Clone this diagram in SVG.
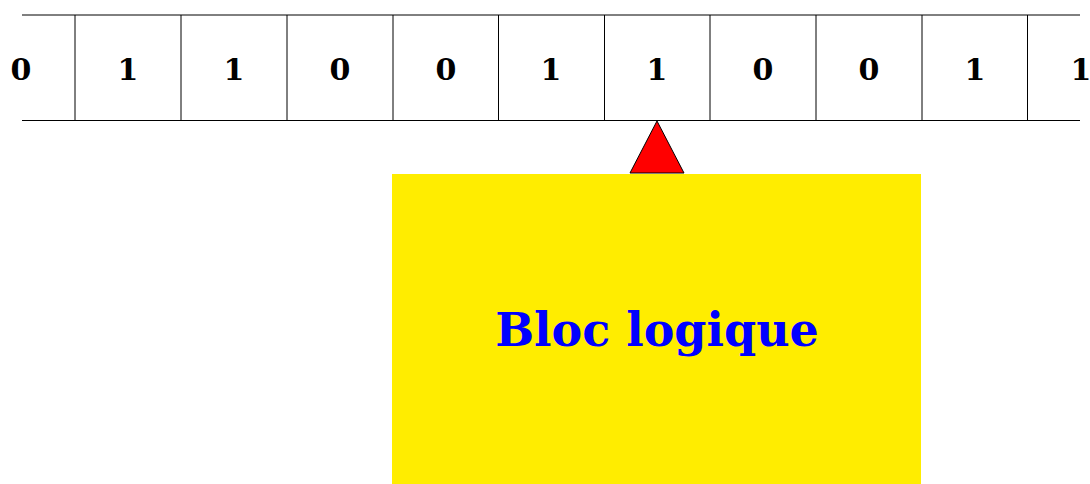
<svg xmlns="http://www.w3.org/2000/svg" width="1090" height="484" viewBox="0 0 1090 484">
<style>
.tape{stroke:#000;stroke-width:1;fill:none}
.d{font-family:"DejaVu Serif","Liberation Serif",serif;font-weight:bold;font-size:30px;text-anchor:middle;fill:#000}
.lbl{font-family:"DejaVu Serif","Liberation Serif",serif;font-weight:bold;font-size:46px;text-anchor:middle;fill:#0000FF}
</style>
<g id="tape">
<line class="tape" x1="22" y1="15" x2="1080" y2="15"/>
<line class="tape" x1="22" y1="120.5" x2="1080" y2="120.5"/>
<line class="tape" x1="75" y1="15" x2="75" y2="120.5"/>
<line class="tape" x1="181" y1="15" x2="181" y2="120.5"/>
<line class="tape" x1="287" y1="15" x2="287" y2="120.5"/>
<line class="tape" x1="393" y1="15" x2="393" y2="120.5"/>
<line class="tape" x1="498.5" y1="15" x2="498.5" y2="120.5"/>
<line class="tape" x1="604.5" y1="15" x2="604.5" y2="120.5"/>
<line class="tape" x1="710" y1="15" x2="710" y2="120.5"/>
<line class="tape" x1="816" y1="15" x2="816" y2="120.5"/>
<line class="tape" x1="922" y1="15" x2="922" y2="120.5"/>
<line class="tape" x1="1027.5" y1="15" x2="1027.5" y2="120.5"/>
<text class="d" x="21" y="80">0</text>
<text class="d" x="128" y="80">1</text>
<text class="d" x="234" y="80">1</text>
<text class="d" x="340" y="80">0</text>
<text class="d" x="446" y="80">0</text>
<text class="d" x="551" y="80">1</text>
<text class="d" x="657" y="80">1</text>
<text class="d" x="763" y="80">0</text>
<text class="d" x="869" y="80">0</text>
<text class="d" x="975" y="80">1</text>
<text class="d" x="1081" y="80">1</text>
</g>
<g id="head">
<polygon points="657,121 630,173 684,173" fill="#FF0000" stroke="#000" stroke-width="1"/>
</g>
<g id="block">
<rect x="392" y="174" width="529" height="310" fill="#FFED00"/>
<text class="lbl" x="657" y="346">Bloc logique</text>
</g>
</svg>
